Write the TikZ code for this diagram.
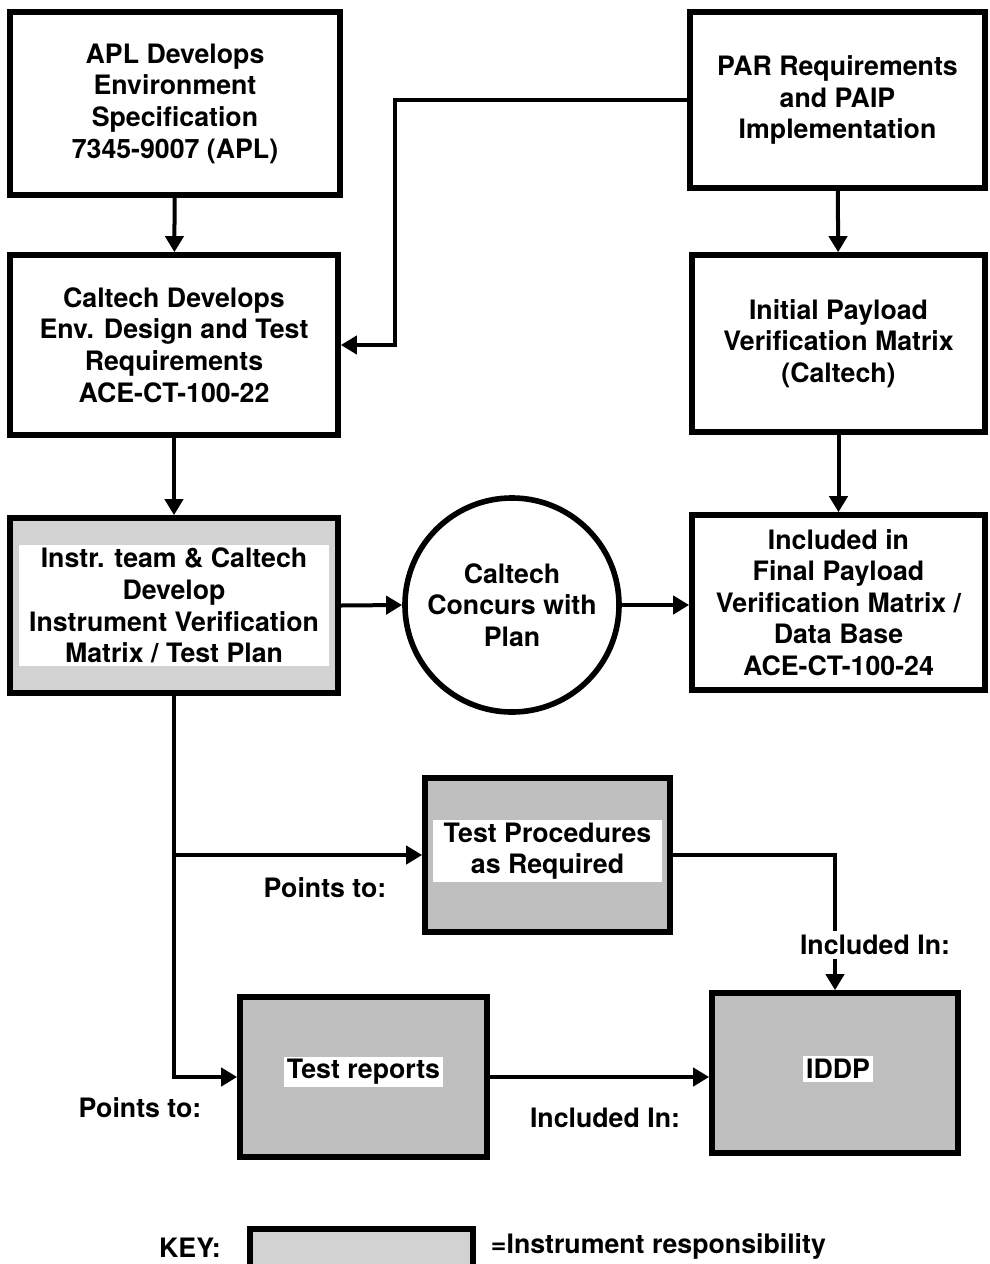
\documentclass[tikz,border=0pt]{standalone}
\usepackage{fontspec}
\setmainfont{TeX Gyre Heros}
\usetikzlibrary{arrows.meta}

\begin{document}
\begin{tikzpicture}[x=0.025cm,y=-0.025cm]
\tikzstyle{every node}+=[font=\bfseries\fontsize{19}{22.5}\selectfont, align=center]
\tikzstyle{box}=[draw, line width=0.14cm, inner sep=0pt]
\tikzstyle{shaded}=[box, fill=gray!50]
\tikzstyle{lightshaded}=[box, fill=gray!35]
\tikzstyle{whitetext}=[fill=white, inner sep=2pt]
\tikzstyle{link}=[line width=0.1cm, -{Triangle[length=0.4cm,width=0.45cm]}]
\useasboundingbox (0,0) rectangle (990,1264);
% top row
\node[box, minimum width=8.25cm, minimum height=4.575cm] (apl) at (175,103.5) {APL Develops\\Environment\\Specification\\7345-9007 (APL)};
\node[box, minimum width=7.375cm, minimum height=4.4cm] (par) at (837.5,100) {PAR Requirements\\and PAIP\\Implementation};
% second row
\node[box, minimum width=8.2cm, minimum height=4.5cm] (caltech) at (174,345) {Caltech Develops\\Env. Design and Test\\Requirements\\ACE-CT-100-22};
\node[box, minimum width=7.325cm, minimum height=4.425cm] (ipvm) at (838.5,343.5) {Initial Payload\\Verification Matrix\\(Caltech)};
% third row
\node[lightshaded, minimum width=8.2cm, minimum height=4.375cm] (ivm) at (174,605.5) {};
\node[whitetext, minimum width=7.75cm] (ivmtext) at (ivm) {Instr. team \& Caltech\\Develop\\Instrument Verification\\Matrix / Test Plan};
\node[draw, circle, line width=0.14cm, minimum size=5.35cm, inner sep=0pt] (concur) at (512,605) {Caltech\\Concurs with\\Plan};
\node[box, minimum width=7.325cm, minimum height=4.375cm] (fpvm) at (838.5,602.5) {Included in\\Final Payload\\Verification Matrix /\\Data Base\\ACE-CT-100-24};
% instrument products
\node[shaded, minimum width=6.125cm, minimum height=3.85cm] (proc) at (547.5,855) {};
\node[whitetext, minimum width=5.7cm] (proctext) at (547.5,851) {Test Procedures\\as Required};
\node[shaded, minimum width=6.175cm, minimum height=4cm] (reports) at (363.5,1077) {};
\node[whitetext] (reportstext) at (363.5,1072) {Test reports};
\node[shaded, minimum width=6.15cm, minimum height=4cm] (iddp) at (835,1073) {};
\node[whitetext] (iddptext) at (838,1069) {IDDP};
% connectors
\coordinate (parbend) at (395,0);
\coordinate (branch) at (175,855);
\draw[link] (apl) -- (caltech);
\draw[link] (par) -- (ipvm);
\draw[link] (par.west) -- (par.west -| parbend) |- (caltech.east);
\draw[link] (caltech) -- (ivm);
\draw[link] (ipvm) -- (fpvm);
\draw[link] (ivm.east) -- (concur.west);
\draw[link] (concur.east) -- (concur.east -| fpvm.west);
\draw[link] (ivm.south) |- (reports.west);
\draw[link] (branch) -- (proc.west);
\draw[link] (proc.east) -| (iddp.north);
\draw[link] (reports.east) -- (reports.east -| iddp.west);
% labels
\node (points1) at (325,888) {Points to:};
\node (points2) at (140,1108) {Points to:};
\node (incl1) at (605,1118) {Included In:};
\node[fill=white, inner sep=3pt] (incl2) at (875,945) {Included In:};
% key
\node (keylabel) at (190,1248) {KEY:};
\node[lightshaded, minimum width=5.575cm, minimum height=1.15cm] (keybox) at (361.5,1252) {};
\node[anchor=west] (keytext) at (486,1246) {=Instrument responsibility};
\end{tikzpicture}
\end{document}
